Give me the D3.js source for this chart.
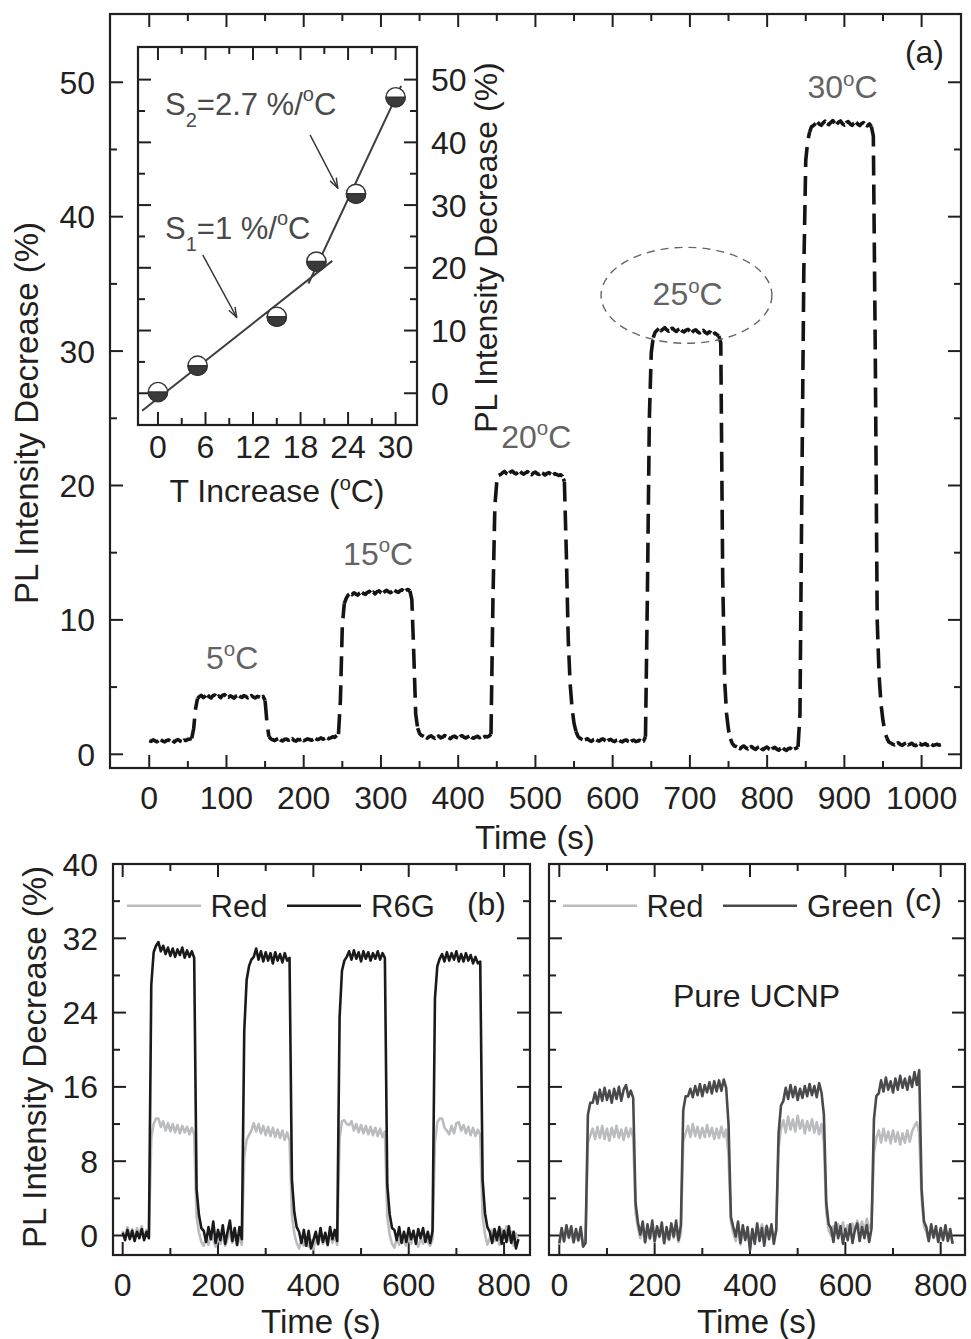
<!DOCTYPE html>
<html>
<head>
<meta charset="utf-8">
<script src="https://cdn.jsdelivr.net/npm/d3@7"></script>
<style>
  body { margin: 0; background: #fff; }
  svg { display: block; }
  text { font-family: "Liberation Sans", Arial, Helvetica, sans-serif; }
</style>
</head>
<body>
<svg id="fig" width="971" height="1339"></svg>
<script>
// ---------------- data ----------------
// (a) PL intensity decrease (%) vs time, sampled every 2.5 s from t = 0
const stepA = 2.5;
const pctA = [
  1.02,0.96,1.08,1.00,0.93,1.04,1.10,0.98,0.92,1.03,1.07,0.97,1.01,0.91,1.05,1.09,0.99,0.94,1.06,1.02,1.11,1.14,1.18,
  1.9,3.4,4.15,
  4.30,4.38,4.22,4.33,4.45,4.28,4.19,4.36,4.41,4.26,4.34,4.21,4.39,4.44,4.30,4.24,4.35,4.27,4.18,4.33,4.40,4.29,4.23,4.37,4.31,4.20,4.28,4.36,4.25,4.19,4.31,4.27,4.22,4.30,
  4.0,2.3,1.3,
  1.15,1.08,1.02,1.12,1.18,1.06,0.99,1.10,1.14,1.04,1.09,1.16,1.03,0.98,1.11,1.07,1.13,1.01,1.08,1.15,1.10,1.04,1.12,1.19,1.09,1.14,1.22,1.12,1.18,1.25,1.16,1.22,1.30,1.26,1.38,
  1.5,4.0,9.6,11.2,11.6,
  11.85,11.95,11.88,12.02,11.92,11.84,12.00,12.08,11.96,11.90,12.05,12.12,11.98,12.06,11.94,12.10,12.16,12.03,11.97,12.12,12.20,12.08,12.02,12.15,12.22,12.10,12.05,12.18,12.24,12.12,12.20,12.26,12.15,
  11.5,7.5,3.0,1.95,1.55,1.40,
  1.35,1.28,1.20,1.31,1.38,1.25,1.18,1.30,1.36,1.22,1.28,1.40,1.32,1.24,1.17,1.29,1.35,1.26,1.20,1.33,1.39,1.27,1.21,1.30,1.37,1.25,1.19,1.28,1.34,1.23,1.30,1.26,1.33,1.29,1.36,
  1.5,11.5,18.5,20.3,20.75,
  20.82,20.95,21.05,20.90,20.84,21.00,21.08,20.94,20.86,20.98,21.06,20.92,20.85,20.96,21.03,20.88,20.80,20.93,21.00,20.87,20.82,20.95,20.89,20.78,20.90,20.96,20.84,20.76,20.88,20.82,20.74,20.80,20.68,
  20.3,15.0,8.5,5.2,3.4,2.3,1.7,1.35,
  1.20,1.12,1.05,1.10,1.16,1.02,0.96,1.08,1.13,1.04,0.98,1.10,1.15,1.03,0.95,1.06,1.11,1.00,0.94,1.05,1.09,0.98,0.92,1.03,1.07,0.96,0.90,1.01,1.05,0.94,0.99,1.04,0.96,0.98,
  1.3,12.0,25.0,29.9,31.0,
  31.40,31.55,31.68,31.52,31.62,31.74,31.58,31.48,31.63,31.70,31.55,31.46,31.60,31.66,31.50,31.42,31.56,31.62,31.47,31.38,31.52,31.58,31.43,31.35,31.48,31.54,31.38,31.30,31.44,31.36,31.25,31.34,31.22,31.12,
  30.6,13.0,5.5,3.0,1.8,1.15,0.80,0.62,
  0.58,0.50,0.42,0.55,0.62,0.48,0.40,0.53,0.58,0.44,0.37,0.50,0.56,0.42,0.35,0.48,0.54,0.40,0.33,0.46,0.51,0.38,0.30,0.44,0.49,0.36,0.29,0.42,0.47,0.34,0.40,0.45,0.55,
  3.0,20.0,36.0,44.2,45.6,46.3,46.7,
  46.78,46.92,47.05,46.88,46.80,46.98,47.10,46.94,46.85,47.02,47.15,46.96,46.86,47.04,47.12,46.92,46.82,47.00,47.08,46.90,46.80,46.96,47.04,46.88,46.78,46.94,47.00,46.84,46.76,46.90,46.70,
  46.0,30.0,10.0,5.8,3.7,2.5,1.7,1.2,0.92,
  0.84,0.76,0.70,0.80,0.86,0.72,0.66,0.78,0.83,0.70,0.76,0.82,0.68,0.64,0.75,0.80,0.69,0.73,0.79,0.66,0.71,0.77,0.65,0.70,0.75,0.68,0.72
];
const stepTemps = ["5", "15", "20", "25", "30"];

// inset: decrease vs temperature increase, with the two linear fits
const insetTemp = [0, 5, 15, 20, 25, 30];
const insetPct = [0.2, 4.4, 12.2, 21.0, 31.8, 47.2];
const fitS1 = [[-2.0, -2.8], [22.0, 21.1]];
const fitS2 = [[19.0, 17.5], [30.7, 49.0]];

// (b) and (c) traces, sampled every 5 s from t = 0
const stepBC = 5;
const redB = [
  0.5,-0.3,0.9,0.0,0.7,-0.4,0.8,0.1,1.0,-0.2,0.6,-0.1,
  10.5,12.0,12.6,
  12.6,11.7,12.3,11.3,12.1,11.2,12.0,11.1,11.9,11.0,11.8,11.1,11.7,10.9,11.6,10.9,
  2.0,0.3,-0.7,
  -1.1,-0.3,-1.0,0.2,-0.5,-1.2,-0.2,-0.9,0.3,-1.1,-0.4,0.5,-0.8,-0.1,-1.1,-0.2,-1.0,
  8.5,10.3,10.8,11.3,
  12.1,11.2,12.0,11.0,11.8,10.8,11.7,10.7,11.6,10.6,11.4,10.5,11.3,10.3,11.1,10.2,
  2.2,0.2,-0.8,
  -1.4,-0.4,-1.1,-0.2,-1.2,-0.5,-1.5,-0.3,-1.0,0.1,-0.9,-0.2,-1.1,0.2,-0.8,-0.1,-1.0,
  10.5,12.3,12.4,12.0,
  11.9,12.3,11.3,12.0,11.1,11.9,11.0,11.8,10.9,11.7,10.8,11.6,10.7,11.5,10.6,11.2,
  2.0,0.1,-0.9,
  -1.3,-0.3,-1.0,0.0,-0.7,-1.1,-0.2,-0.9,0.2,-0.6,-1.2,-0.3,-0.9,0.1,-0.7,-1.1,-0.4,
  10.0,12.2,12.6,
  12.6,11.6,11.3,10.9,11.8,11.0,12.1,12.2,11.3,11.9,11.0,11.7,10.8,11.6,10.7,11.4,10.8,
  2.1,0.1,-1.0,
  -0.3,0.6,-0.6,0.4,-1.0,0.7,-0.2,1.0,-0.5,0.4,-1.1,0.2,-0.6
];
const r6gB = [
  0.3,-0.5,0.6,-0.4,0.5,-0.6,0.4,-0.3,0.7,-0.5,0.4,-0.3,
  27.0,30.5,31.2,
  31.6,30.6,31.2,30.3,31.0,30.1,30.9,30.0,30.8,30.2,31.0,29.9,30.7,30.0,30.6,29.9,
  5.0,2.2,0.8,
  0.5,-0.7,0.9,-0.4,1.5,-0.8,0.6,-0.5,1.1,-0.9,0.4,1.6,-0.6,0.8,-1.0,0.9,-0.4,
  22.0,27.5,29.0,29.7,
  30.0,30.9,29.7,30.6,29.5,30.5,29.6,30.4,29.3,30.5,29.6,30.3,29.4,30.4,29.6,29.9,
  6.0,2.5,0.9,
  0.4,-0.8,0.6,-1.1,0.5,-1.4,-0.5,0.4,-0.9,0.8,-0.7,0.3,-1.0,0.9,-0.4,0.6,-0.6,
  23.5,28.5,29.6,30.0,
  30.6,29.7,30.7,29.8,30.5,29.5,30.6,29.8,30.5,29.6,30.4,29.8,30.6,29.7,30.4,29.9,
  5.5,2.3,0.8,
  0.6,-0.5,0.9,-0.8,0.4,-0.7,0.8,-0.4,0.5,-0.9,0.7,-0.3,0.8,-0.7,0.4,-0.8,0.5,
  25.5,29.0,29.8,
  30.3,29.5,30.5,29.6,30.4,29.7,30.6,29.5,30.3,29.5,30.4,29.6,30.2,29.3,30.0,29.3,29.5,
  6.0,2.4,0.9,
  0.4,-0.8,0.7,-0.5,0.9,-0.9,0.5,-0.7,1.0,-0.8,0.4,-1.4,-0.4
];
const redC = [
  -1.0,0.3,-0.7,0.6,-0.3,0.5,-0.8,0.2,-0.6,0.4,-1.2,-0.6,
  10.0,10.8,
  11.5,10.4,11.7,10.5,11.8,10.4,11.5,10.2,11.6,10.6,11.8,10.5,11.4,10.3,11.6,10.6,11.5,
  10.5,2.5,0.8,
  -0.3,0.8,-0.8,0.5,-0.4,1.0,-0.7,0.4,-0.2,0.9,-0.9,0.3,-0.5,0.7,-0.3,0.8,-0.7,0.2,
  10.2,11.0,
  11.8,10.6,12.0,10.7,11.7,10.5,11.6,10.6,11.9,10.7,11.6,10.4,11.5,10.5,11.7,10.6,11.4,
  8.5,1.5,0.3,
  -0.6,0.8,-1.0,0.5,-0.4,0.3,-1.1,0.6,-0.5,1.0,0.2,1.2,0.3,1.1,0.1,0.9,-0.3,0.5,
  9.5,11.5,
  12.4,11.1,12.8,11.4,12.5,11.2,12.9,11.5,12.4,11.0,12.3,11.3,12.5,11.1,12.2,10.9,12.0,
  10.0,2.5,0.6,
  0.0,1.0,0.2,1.2,0.4,1.4,0.3,1.1,0.1,1.3,0.5,1.6,0.7,1.5,0.4,1.8,0.8,1.3,
  9.0,10.5,
  11.3,10.0,11.5,10.2,11.2,9.9,11.3,10.1,11.1,9.8,11.0,10.0,11.3,10.1,11.2,11.8,12.2,11.0,
  4.0,1.0,
  0.4,-0.6,0.7,-0.3,0.5,-0.7,0.3,-0.4,0.6,-0.5,0.2,-0.8
];
const greenC = [
  -0.8,0.8,-0.6,1.1,-0.2,1.0,-0.7,0.7,-0.5,0.9,-1.2,-0.8,
  13.0,14.3,
  14.3,15.4,14.2,15.7,14.5,15.9,14.6,15.6,14.3,15.8,14.7,16.0,14.5,15.7,16.2,14.9,15.6,
  14.8,3.5,1.4,
  0.1,1.5,-0.7,1.2,-0.3,1.6,-0.6,1.0,-0.1,1.4,-0.8,0.9,-0.4,1.3,-0.1,1.6,-0.5,1.1,
  13.5,15.0,
  15.0,15.8,14.9,16.1,15.1,16.3,15.0,16.2,15.4,16.5,15.3,16.6,15.5,16.7,15.6,16.8,15.9,
  12.0,2.0,0.9,
  -0.1,1.5,-0.8,1.1,-0.5,0.9,-1.6,0.7,-0.9,1.3,-0.6,0.8,-1.1,1.0,-0.4,1.2,-0.9,0.6,
  11.0,14.0,
  14.5,15.9,14.7,16.2,14.9,16.0,14.6,15.8,14.8,16.1,15.0,16.3,15.1,16.1,14.9,16.4,15.4,
  13.0,3.5,1.2,
  0.8,-0.7,1.4,-0.3,1.0,-0.9,0.7,-0.5,1.2,-0.8,0.6,1.3,-0.6,0.9,-0.3,1.1,-0.7,0.8,
  12.5,15.0,
  15.3,16.7,15.5,17.0,15.7,16.6,15.4,16.9,15.7,17.2,15.9,16.9,15.7,17.1,16.0,17.6,16.2,17.8,
  5.0,1.5,
  0.9,-0.6,1.2,-0.2,1.0,-0.7,0.8,-0.5,1.1,-0.6,0.7,-0.9
];

// tick values
const ticksTimeA = d3.range(0, 1001, 100);
const ticksTimeAMinor = d3.range(50, 1001, 100);
const ticksPctA = d3.range(0, 51, 10);
const ticksPctAMinor = d3.range(5, 56, 10);
const ticksTempI = d3.range(0, 31, 6);
const ticksTempIMinor = d3.range(3, 31, 6);
const ticksPctI = d3.range(0, 51, 10);
const ticksPctIMinor = d3.range(5, 56, 10);
const ticksTimeBC = d3.range(0, 801, 200);
const ticksTimeBCMinor = d3.range(100, 801, 200);
const ticksPctBC = d3.range(0, 41, 8);
const ticksPctBCMinor = d3.range(4, 41, 8);

// ---------------- drawing ----------------
const INK = "#231f20";
const TICK_FONT = 32;
const svg = d3.select("#fig");

// panel geometry
const xA = d3.scaleLinear().domain([-50.8, 1051]).range([110, 961]);
const yA = d3.scaleLinear().domain([-1.02, 55.08]).range([768, 14]);
const xI = d3.scaleLinear().domain([-2.52, 32.7]).range([138, 417]);
const yI = d3.scaleLinear().domain([-5.06, 55.2]).range([425, 47]);
const xB = d3.scaleLinear().domain([-20.3, 854.4]).range([113, 530]);
const xC = d3.scaleLinear().domain([-21.6, 851]).range([549, 965]);
const yBC = d3.scaleLinear().domain([-2.1, 40]).range([1255, 864]);

svg.append("defs").append("marker")
  .attr("id", "arrowhead").attr("viewBox", "0 0 12 10")
  .attr("refX", 11).attr("refY", 5)
  .attr("markerWidth", 12).attr("markerHeight", 10)
  .attr("markerUnits", "userSpaceOnUse").attr("orient", "auto")
  .append("path").attr("d", "M1,1.5 L11,5 L1,8.5")
  .attr("fill", "none").attr("stroke", "#333").attr("stroke-width", 1.4);

// frame with inward ticks on all four sides
function frame(g, x, y, xMaj, xMin, yMaj, yMin, fill) {
  const [l, r] = x.range(), [b, t] = y.range();
  g.append("rect").attr("x", l).attr("y", t).attr("width", r - l).attr("height", b - t)
    .attr("fill", fill || "none");
  const segs = [];
  [...xMaj.map(v => [v, 13]), ...xMin.map(v => [v, 7])].forEach(([v, L]) => {
    const p = x(v);
    if (p < l + 2 || p > r - 2) return;
    segs.push([p, b, p, b - L], [p, t, p, t + L]);
  });
  [...yMaj.map(v => [v, 13]), ...yMin.map(v => [v, 7])].forEach(([v, L]) => {
    const p = y(v);
    if (p < t + 2 || p > b - 2) return;
    segs.push([l, p, l + L, p], [r, p, r - L, p]);
  });
  g.append("g").selectAll("line").data(segs).join("line")
    .attr("x1", d => d[0]).attr("y1", d => d[1]).attr("x2", d => d[2]).attr("y2", d => d[3])
    .attr("stroke", INK).attr("stroke-width", 2);
  g.append("rect").attr("x", l).attr("y", t).attr("width", r - l).attr("height", b - t)
    .attr("fill", "none").attr("stroke", INK).attr("stroke-width", 2.2);
}

function bottomLabels(g, x, y, vals, off) {
  const b = y.range()[0];
  g.append("g").selectAll("text").data(vals).join("text")
    .attr("x", d => x(d)).attr("y", b + off).attr("text-anchor", "middle")
    .attr("font-size", TICK_FONT).attr("fill", INK).text(d => d);
}
function leftLabels(g, x, y, vals) {
  const l = x.range()[0];
  g.append("g").selectAll("text").data(vals).join("text")
    .attr("x", l - 15).attr("y", d => y(d)).attr("dy", "0.36em").attr("text-anchor", "end")
    .attr("font-size", TICK_FONT).attr("fill", INK).text(d => d);
}
function rightLabels(g, x, y, vals) {
  const r = x.range()[1];
  g.append("g").selectAll("text").data(vals).join("text")
    .attr("x", r + 14).attr("y", d => y(d)).attr("dy", "0.36em").attr("text-anchor", "start")
    .attr("font-size", TICK_FONT).attr("fill", INK).text(d => d);
}
function vTitle(g, x, y, text, size) {
  g.append("text").attr("transform", `translate(${x},${y}) rotate(-90)`)
    .attr("text-anchor", "middle").attr("font-size", size).attr("fill", INK).text(text);
}
function hTitle(g, x, y, text, size) {
  g.append("text").attr("x", x).attr("y", y).attr("text-anchor", "middle")
    .attr("font-size", size).attr("fill", INK).text(text);
}
// "NN°C" with a raised small o
function degText(g, x, y, num, size, color) {
  const t = g.append("text").attr("x", x).attr("y", y).attr("font-size", size).attr("fill", color);
  t.append("tspan").text(num);
  t.append("tspan").attr("font-size", size * 0.64).attr("dy", -size * 0.4).text("o");
  t.append("tspan").attr("dy", size * 0.4).text("C");
  return t;
}

// ---------- panel (a) ----------
const gA = svg.append("g");
frame(gA, xA, yA, ticksTimeA, ticksTimeAMinor, ticksPctA, ticksPctAMinor);
leftLabels(gA, xA, yA, ticksPctA);
bottomLabels(gA, xA, yA, ticksTimeA, 41);
hTitle(gA, 535, 849, "Time (s)", 33);
vTitle(gA, 38, 413, "PL Intensity Decrease (%)", 33);

// The dashed trace: the dense, noisy flat stretches render as a nearly
// continuous dotted band while the steep steps show long open dashes.
const ptsA = pctA.map((v, i) => [xA(i * stepA), yA(v)]);
const runsA = [];
for (let i = 0; i < ptsA.length - 1; i++) {
  const steep = Math.abs(ptsA[i + 1][1] - ptsA[i][1]) > 6;
  if (!runsA.length || runsA[runsA.length - 1].steep !== steep) runsA.push({ steep, pts: [ptsA[i]] });
  runsA[runsA.length - 1].pts.push(ptsA[i + 1]);
}
gA.append("g").selectAll("path").data(runsA).join("path")
  .attr("d", r => d3.line()(r.pts))
  .attr("fill", "none").attr("stroke", "#141414").attr("stroke-width", 3.6)
  .attr("stroke-linejoin", "round")
  .attr("stroke-dasharray", r => r.steep ? "20,9" : "11,2.5");

// step temperature labels (time, % anchor for the text start)
const stepLabelAt = [[73.5, 6.35], [251, 14.1], [455.7, 22.8], [651.7, 33.4], [852.2, 48.8]];
stepTemps.forEach((s, k) => degText(gA, xA(stepLabelAt[k][0]), yA(stepLabelAt[k][1]), s, 32, "#636363"));

// dashed ellipse around the 25 °C step
const ell = { t: 695.6, v: 34.15, dt: 110.6, dv: 3.57 };
gA.append("ellipse")
  .attr("cx", xA(ell.t)).attr("cy", yA(ell.v))
  .attr("rx", xA(ell.t + ell.dt) - xA(ell.t)).attr("ry", yA(ell.v) - yA(ell.v + ell.dv))
  .attr("fill", "none").attr("stroke", "#666").attr("stroke-width", 1.4).attr("stroke-dasharray", "8,6");

gA.append("text").attr("x", 944).attr("y", 63).attr("text-anchor", "end")
  .attr("font-size", 32).attr("fill", INK).text("(a)");

// ---------- inset ----------
const gI = svg.append("g");
frame(gI, xI, yI, ticksTempI, ticksTempIMinor, ticksPctI, ticksPctIMinor, "#fff");
bottomLabels(gI, xI, yI, ticksTempI, 33);
rightLabels(gI, xI, yI, ticksPctI);
const tI = gI.append("text").attr("x", 277).attr("y", 502).attr("text-anchor", "middle")
  .attr("font-size", 32).attr("fill", INK);
tI.append("tspan").text("T Increase (");
tI.append("tspan").attr("font-size", 20).attr("dy", -12).text("o");
tI.append("tspan").attr("dy", 12).text("C)");
vTitle(gI, 497, 247.5, "PL Intensity Decrease (%)", 32);

const fitLine = d3.line().x(d => xI(d[0])).y(d => yI(d[1]));
[fitS1, fitS2].forEach(f => gI.append("path").attr("d", fitLine(f))
  .attr("fill", "none").attr("stroke", "#3d3d3d").attr("stroke-width", 2));

const R = 9.6;
const pts = gI.append("g").selectAll("g").data(insetTemp.map((t, i) => [t, insetPct[i]])).join("g")
  .attr("transform", d => `translate(${xI(d[0])},${yI(d[1])})`);
pts.append("circle").attr("r", R).attr("fill", "#fff").attr("stroke", "#333").attr("stroke-width", 1.4);
pts.append("path").attr("d", `M${-R},0 A${R},${R} 0 0 0 ${R},0 Z`)
  .attr("fill", "#3a3a3a").attr("stroke", "#333").attr("stroke-width", 1.4);

// slope annotations
function slopeText(g, x, y, sub, value) {
  const t = g.append("text").attr("x", x).attr("y", y).attr("font-size", 31).attr("fill", "#4a4a4a");
  t.append("tspan").text("S");
  t.append("tspan").attr("font-size", 20).attr("dy", 12).text(sub);
  t.append("tspan").attr("dy", -12).text("=" + value + " %/");
  t.append("tspan").attr("font-size", 20).attr("dy", -14).text("o");
  t.append("tspan").attr("dy", 14).text("C");
}
slopeText(gI, 165, 115, "2", "2.7");
slopeText(gI, 165, 239, "1", "1");
const arrows = [[[19.2, 41.2], [22.7, 32.7]], [[5.65, 22.05], [9.94, 12.1]]];
arrows.forEach(a => gI.append("line")
  .attr("x1", xI(a[0][0])).attr("y1", yI(a[0][1])).attr("x2", xI(a[1][0])).attr("y2", yI(a[1][1]))
  .attr("stroke", "#333").attr("stroke-width", 1.4).attr("marker-end", "url(#arrowhead)"));

// ---------- panels (b) and (c) ----------
const RED = "#bbbcbf";
function trace(g, x, vals, color) {
  g.append("path").datum(vals)
    .attr("d", d3.line().x((d, i) => x(i * stepBC)).y(d => yBC(d)))
    .attr("fill", "none").attr("stroke", color).attr("stroke-width", 2.6).attr("stroke-linejoin", "round");
}
function legend(g, x0, items) {
  items.forEach(it => {
    g.append("line").attr("x1", x0 + it.l0).attr("x2", x0 + it.l1).attr("y1", 905.7).attr("y2", 905.7)
      .attr("stroke", it.color).attr("stroke-width", 2.6);
    g.append("text").attr("x", x0 + it.tx).attr("y", 917).attr("font-size", 31).attr("fill", INK).text(it.name);
  });
}

const gB = svg.append("g");
frame(gB, xB, yBC, ticksTimeBC, ticksTimeBCMinor, ticksPctBC, ticksPctBCMinor);
trace(gB, xB, redB, RED);
trace(gB, xB, r6gB, "#1a1a1a");
leftLabels(gB, xB, yBC, ticksPctBC);
bottomLabels(gB, xB, yBC, ticksTimeBC, 41);
hTitle(gB, 321, 1333, "Time (s)", 33);
vTitle(gB, 46, 1057, "PL Intensity Decrease (%)", 33);
legend(gB, 113, [
  { name: "Red", color: RED, l0: 14, l1: 88, tx: 97.5 },
  { name: "R6G", color: "#1a1a1a", l0: 174, l1: 248, tx: 258 }
]);
gB.append("text").attr("x", 506).attr("y", 915).attr("text-anchor", "end")
  .attr("font-size", 32).attr("fill", INK).text("(b)");

const gC = svg.append("g");
frame(gC, xC, yBC, ticksTimeBC, ticksTimeBCMinor, ticksPctBC, ticksPctBCMinor);
trace(gC, xC, redC, RED);
trace(gC, xC, greenC, "#4a4a4c");
bottomLabels(gC, xC, yBC, ticksTimeBC, 41);
hTitle(gC, 757, 1333, "Time (s)", 33);
legend(gC, 549, [
  { name: "Red", color: RED, l0: 14, l1: 88, tx: 97.5 },
  { name: "Green", color: "#4a4a4c", l0: 174, l1: 248, tx: 258 }
]);
gC.append("text").attr("x", 942).attr("y", 911).attr("text-anchor", "end")
  .attr("font-size", 32).attr("fill", INK).text("(c)");
gC.append("text").attr("x", 673).attr("y", 1007).attr("font-size", 32).attr("fill", INK).text("Pure UCNP");
</script>
</body>
</html>
